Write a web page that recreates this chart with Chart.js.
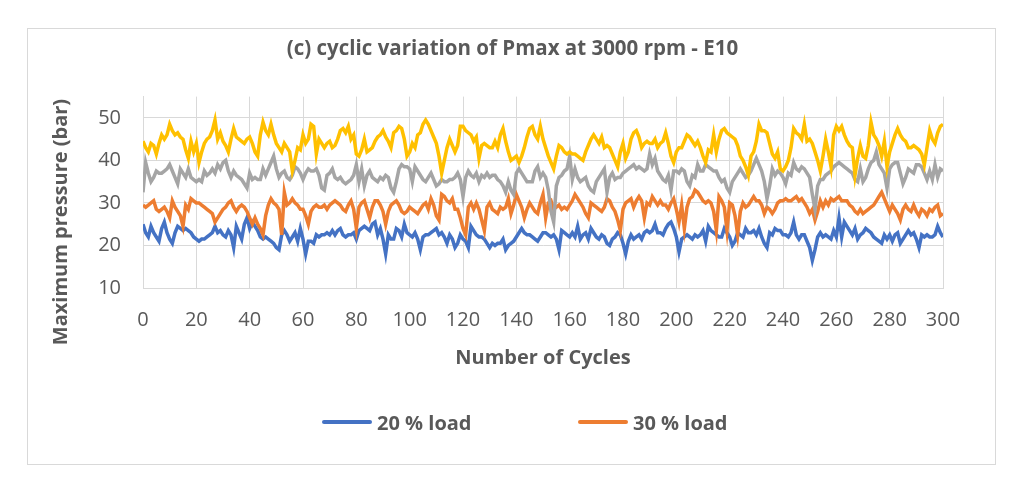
<!DOCTYPE html>
<html>
<head>
<meta charset="utf-8">
<script src="https://cdn.jsdelivr.net/npm/chart.js@4/dist/chart.umd.min.js"></script>
<style>
    body { margin: 0; background: #ffffff; }
    #wrap { position: relative; width: 1010px; height: 487px; }
    #legend { position: absolute; left: 322px; top: 408px; display: flex; font: bold 20px "Open Sans", sans-serif; color: #595959; }
    #legend .item { display: flex; align-items: center; width: 256px; height: 28px; }
    #legend .line { display: inline-block; width: 50px; height: 4px; margin-right: 5px; border-radius: 2px; }
</style>
</head>
<body>
<div id="wrap">
    <canvas id="myChart" width="1010" height="487"></canvas>
    <div id="legend"></div>
</div>
<script>
// Datos (ciclo 0 .. 300)
var seriesNames = ["20 % load", "30 % load", "40 % load", "50 % load"];
var seriesColors = ["#4472C4", "#ED7D31", "#A5A5A5", "#FFC000"];
var legendShown = ["20 % load", "30 % load"];
var xTickLabels = [0, 20, 40, 60, 80, 100, 120, 140, 160, 180, 200, 220, 240, 260, 280, 300];
var yTickLabels = [10, 20, 30, 40, 50];

var load20 = [25, 23, 22, 24.5, 23, 22, 21, 24, 25.5, 23, 21.5,
    20.5, 23, 24.5, 24, 23.5, 24, 23.5, 23, 22, 21.5,
    21, 21.5, 21.5, 22, 22.5, 23, 24.5, 23, 23.5, 22.5,
    22, 23.5, 22.5, 19.5, 24.5, 23, 21.5, 25, 26.5, 24,
    25.5, 24.5, 23.5, 22, 21.5, 22, 21.5, 21, 20.5, 19.5,
    19, 22.5, 23.5, 22.5, 21, 22, 23, 21, 24, 21.5,
    18, 21, 21, 20.5, 22.5, 22, 22.5, 22.5, 23, 22.5,
    23.5, 22.5, 23.5, 24, 22.5, 22, 22.5, 22.5, 23, 21.5,
    23.5, 24, 24.5, 24, 23.5, 25, 25.5, 22.5, 24, 21.5,
    18, 22.5, 21.5, 21.5, 24, 23.5, 22, 25, 23, 22.5,
    22, 23, 21.5, 19, 22, 22.5, 22.5, 23, 23.5, 24,
    22.5, 23, 22, 20.5, 22.5, 21.5, 19.5, 20.5, 22.5, 21.5,
    21, 19.5, 24.5, 23.5, 22.5, 22, 22, 21.5, 20.5, 19.5,
    20.5, 20, 20.5, 20.5, 21.5, 19, 20, 20.5, 21, 22,
    23, 24, 23, 22.5, 22.5, 22, 21.5, 21, 22, 23,
    23, 22.5, 22, 22.5, 21.5, 19, 23.5, 23, 22.5, 22,
    23, 22, 24.5, 21.5, 22.5, 23, 21.5, 24, 23, 22,
    21.5, 22.5, 22, 20.5, 20, 21.5, 22, 23, 22.5, 20.5,
    18, 21, 22.5, 21.5, 22, 22.5, 21.5, 23, 23.5, 23,
    23.5, 25, 23, 23, 22.5, 24, 25, 25.5, 24, 22,
    18.5, 21.5, 22, 22.5, 22, 21.5, 22.5, 22, 22.5, 23.5,
    21, 24.5, 23.5, 23, 22.5, 22, 22, 24, 23, 22,
    20, 21, 23, 22.5, 22, 24, 23, 23, 23.5, 22.5,
    24, 22, 20.5, 19.5, 23, 22.5, 24, 23.5, 23.5, 22.5,
    22.5, 22, 23, 25.5, 22.5, 21.5, 22.5, 22.5, 21, 19.5,
    16.5, 19, 22, 23, 22, 22.5, 22, 21.5, 23.5, 22,
    26.5, 22, 25.5, 24.5, 23.5, 22.5, 24, 21.5, 22.5, 23,
    24, 23.5, 23, 22, 21.5, 21, 20.5, 22.5, 21.5, 22.5,
    21, 22.5, 23, 20.5, 21.5, 22.5, 23.5, 22.5, 23, 21.5,
    19.5, 22.5, 22, 22.5, 22, 22, 22.5, 24.5, 23, 22];

var load30 = [29.5, 29, 29.5, 30, 30.5, 28.5, 28, 28.5, 29, 28, 26.5,
    30.5, 29, 28, 27, 24.5, 29.5, 28.5, 31, 30.5, 30,
    30, 29.5, 29, 28.5, 28, 27.5, 25.5, 26.5, 27.5, 28.5,
    29, 30, 30.5, 29, 28, 29, 29.5, 29, 28, 26.5,
    25, 26.5, 25, 24, 22.5, 27, 29.5, 31, 30, 29.5,
    28.5, 22.5, 32.5, 29.5, 30, 31, 30, 29.5, 28.5, 28.5,
    27, 25, 28, 29, 29.5, 29, 29, 29.5, 28.5, 29.5,
    30, 30.5, 30, 29.5, 28.5, 28, 29.5, 30.5, 28.5, 24,
    29, 30, 30.5, 28.5, 26.5, 29, 30.5, 30.5, 29.5, 28,
    25, 28, 29.5, 30, 30.5, 29.5, 28, 27.5, 28, 29,
    28.5, 28, 27.5, 28.5, 29.5, 30, 28.5, 31, 29.5, 27,
    26, 32, 31.5, 30.5, 30, 31, 28.5, 28.5, 26.5, 24,
    22.5, 29, 30, 28.5, 30, 28.5, 26, 23.5, 29, 30,
    28.5, 28, 27.5, 29, 28.5, 29, 31, 27.5, 29.5, 32,
    30.5, 29, 26.5, 28.5, 30, 29, 28, 27.5, 30, 32,
    26.5, 30, 30.5, 28.5, 29, 29.5, 28.5, 29, 28.5, 29.5,
    30.5, 32, 31, 30, 29, 27.5, 26.5, 30, 29.5, 29,
    28.5, 28, 29, 31, 30.5, 29, 28, 26, 23.5, 28.5,
    30, 30.5, 31, 29, 30.5, 31.5, 30.5, 26.5, 30, 29.5,
    31.5, 30.5, 29.5, 30.5, 29.5, 29.5, 28.5, 30, 31, 28.5,
    25.5, 29.5, 24, 29, 31, 31.5, 33, 32.5, 31.5, 30.5,
    30, 30.5, 30, 28, 23.5, 31.5, 30.5, 29, 23.5, 30,
    29.5, 27, 22.5, 28, 30, 29, 29.5, 30.5, 31.5, 30.5,
    30.5, 29.5, 27.5, 29, 28.5, 27.5, 28.5, 30, 30.5, 30.5,
    31, 30.5, 30.5, 31, 31.5, 30.5, 31, 30, 29, 27.5,
    28.5, 26, 28, 30.5, 29, 30.5, 29.5, 31, 30.5, 31,
    31.5, 30.5, 30.5, 30.5, 29.5, 29, 28, 27.5, 28.5, 27.5,
    28, 28.5, 29, 29.5, 30.5, 31.5, 32.5, 31, 29.5, 28,
    29.5, 28.5, 27.5, 26, 28.5, 29.5, 28.5, 28, 29.5, 28,
    27, 28.5, 28, 27, 28.5, 28, 29, 29.5, 27, 27.5];

var load40 = [32.5, 39.5, 37, 35, 36, 37.5, 37, 37, 37.5, 38, 39,
    37.5, 36, 34.5, 38, 37, 36, 38, 36, 35.5, 35,
    35.5, 35, 37.5, 36.5, 37, 38, 37, 39, 38, 39.5,
    40, 37.5, 36, 37.5, 36.5, 36, 35.5, 34.5, 33.5, 37,
    35.5, 36, 35.5, 35.5, 38, 36.5, 38, 39.5, 41, 38,
    36, 37, 37.5, 36, 35.5, 36.5, 38.5, 38, 37, 35.5,
    37, 38, 37.5, 37.5, 38, 36.5, 33.5, 33, 36.5, 37,
    38, 36, 35.5, 36, 35, 34.5, 35, 35.5, 36.5, 39,
    35, 38, 34, 36.5, 37.5, 36, 35.5, 35, 36, 35.5,
    36.5, 36, 33.5, 32.5, 35, 38, 39, 38.5, 38.5, 38,
    35, 38.5, 37.5, 36.5, 35.5, 35, 36, 37, 35.5, 34,
    34.5, 35.5, 35, 35, 35.5, 35.5, 36, 37, 35.5, 31.5,
    36, 37.5, 36.5, 36, 37, 35, 36.5, 36, 37, 36,
    36.5, 36.5, 35.5, 35, 34, 32.5, 35, 33, 32, 37,
    38, 37, 36, 35, 35, 35, 37.5, 38.5, 36, 37,
    36, 33, 28, 25.5, 34, 36, 36.5, 37.5, 38, 41,
    35.5, 38, 36, 35, 35.5, 36, 34, 33, 32.5, 35,
    36, 37, 38, 32.5, 36, 37, 35.5, 36, 36, 37,
    37.5, 38, 38.5, 39, 38, 38.5, 38, 37.5, 38, 41.5,
    39, 40.5, 37.5, 36.5, 35.5, 35, 36.5, 33, 37.5, 37.5,
    37, 38, 37.5, 35, 34, 36.5, 36, 39, 37.5, 37.5,
    39, 38.5, 38, 37.5, 37.5, 36, 35, 35.5, 33.5, 32.5,
    35, 36, 37, 38, 37, 36, 36.5, 37.5, 39, 40.5,
    39, 37.5, 35, 31, 34, 38, 36.5, 37.5, 37, 36,
    34.5, 37, 36.5, 39.5, 38, 37.5, 38.5, 38, 37, 36,
    32, 28.5, 34, 35.5, 35.5, 36.5, 37, 37.5, 38.5, 39,
    39.5, 39, 38.5, 38, 37.5, 37, 35.5, 35, 38, 35,
    36, 38, 39.5, 40, 42, 39, 38, 37, 33.5, 38,
    39, 39.5, 39.5, 37, 34.5, 36, 38, 37.5, 37, 39,
    39, 38.5, 37, 35.5, 37.5, 35.5, 39, 36, 38, 37.5];

var load50 = [44.5, 43, 42, 44, 43.5, 41.5, 44, 46, 45, 46, 48.5,
    47, 46, 46.5, 45.5, 45, 42.5, 40.5, 44.5, 42, 44,
    39.5, 42, 44, 45, 45.5, 47, 49.5, 45, 46.5, 44.5,
    43.5, 42, 45, 47.5, 45.5, 45, 44.5, 44, 45, 45.5,
    44, 42, 41, 46, 49, 47, 46, 48.5, 46, 44,
    43, 42, 44, 43, 42, 37.5, 40, 43, 42.5, 46,
    44, 45, 48.5, 48, 41.5, 45, 44, 43, 44, 44.5,
    43, 43.5, 45, 47, 47.5, 46.5, 48, 45, 46, 41.5,
    41, 42.5, 45, 42, 42.5, 43, 44.5, 45.5, 46, 47,
    45.5, 44.5, 43, 46.5, 47, 48, 47.5, 45, 41, 42,
    44, 43, 46, 46.5, 48.5, 49.5, 48.5, 47, 45.5, 44,
    41, 37, 40, 43, 45, 43.5, 42, 43.5, 48, 48,
    47, 46.5, 46, 44.5, 45.5, 40.5, 43.5, 44, 43.5, 43,
    43, 44.5, 43, 46, 47.5, 44.5, 42, 40, 40.5, 41,
    39.5, 41, 43, 45.5, 47.5, 48, 46, 45, 48, 45,
    43, 41, 39.5, 38, 41, 43.5, 43, 42, 41.5, 42,
    41.5, 41.5, 41, 40.5, 40, 42, 43.5, 45, 46, 45,
    44, 45.5, 43, 43.5, 43, 41.5, 40, 38.5, 42, 44,
    40.5, 42, 45, 46.5, 47, 45.5, 43, 44, 44.5, 44,
    44, 45, 43, 44, 44.5, 46.5, 44, 41, 39.5, 42,
    43, 43, 44.5, 46, 45.5, 44.5, 43.5, 44.5, 43, 41,
    39.5, 42.5, 42, 46, 42, 45, 47, 47.5, 46.5, 46,
    45.5, 45, 43.5, 41, 40, 38.5, 36.5, 41, 42, 44.5,
    48.5, 47, 47, 46.5, 44, 41.5, 40.5, 42, 38, 37.5,
    38.5, 40, 43, 47.5, 46.5, 46, 45, 48.5, 44.5, 45,
    44, 42, 40, 37.5, 41, 45, 42, 38.5, 46, 48,
    47, 48, 46, 44.5, 43.5, 43, 36.5, 40.5, 43.5, 41,
    40.5, 43.5, 49, 46, 45, 43.5, 41, 44.5, 38.5, 42,
    44, 46, 47.5, 46, 45, 44.5, 43, 43, 43.5, 43,
    42.5, 41.5, 39, 43, 47, 45, 44, 46.5, 48, 48.5];

var allSeries = [load20, load30, load40, load50];

// Convertimos cada serie en puntos {x: ciclo, y: presion}
function toPoints(serie) {
    return serie.map(function (v, i) { return { x: i, y: v }; });
}

var datasets = allSeries.map(function (serie, i) {
    return {
        label: seriesNames[i],
        data: toPoints(serie),
        borderColor: seriesColors[i],
        backgroundColor: seriesColors[i],
        borderWidth: 3.5,
        pointRadius: 0,
        tension: 0,
        // Excel dibuja la ultima serie encima
        order: allSeries.length - i
    };
});

var gris = '#595959';
var fuente = '"Open Sans", sans-serif';

// Marco gris alrededor del grafico
var marco = {
    id: 'marco',
    beforeDraw: function (chart) {
        var ctx = chart.ctx;
        ctx.save();
        ctx.fillStyle = '#ffffff';
        ctx.fillRect(0, 0, chart.width, chart.height);
        ctx.strokeStyle = '#d9d9d9';
        ctx.lineWidth = 1;
        ctx.strokeRect(27.5, 28.5, 968, 436);
        ctx.restore();
    }
};

// Titulo del eje Y (en Excel va centrado un poco mas abajo que el eje)
var tituloY = {
    id: 'tituloY',
    afterDraw: function (chart) {
        var ctx = chart.ctx;
        ctx.save();
        ctx.translate(61, 222);
        ctx.rotate(-Math.PI / 2);
        ctx.fillStyle = gris;
        ctx.font = 'bold 20px ' + fuente;
        ctx.textAlign = 'center';
        ctx.textBaseline = 'middle';
        ctx.fillText('Maximum pressure (bar)', 0, 0);
        ctx.restore();
    }
};

var ctx = document.getElementById('myChart').getContext('2d');
var myChart = new Chart(ctx, {
    type: 'line',
    data: { datasets: datasets },
    plugins: [marco, tituloY],
    options: {
        responsive: false,
        animation: false,
        layout: { padding: { left: 82, right: 67, top: 0, bottom: 107 } },
        plugins: {
            legend: { display: false },
            tooltip: { enabled: false },
            title: {
                display: true,
                text: '(c) cyclic variation of Pmax at 3000 rpm - E10',
                color: gris,
                font: { family: fuente, size: 20.5, weight: 'bold' },
                padding: { top: 37, bottom: 35 }
            }
        },
        scales: {
            x: {
                type: 'linear',
                min: 0,
                max: 300,
                afterBuildTicks: function (scale) {
                    scale.ticks = xTickLabels.map(function (v) { return { value: v }; });
                },
                afterFit: function (scale) { scale.height = 92; },
                grid: { color: '#d9d9d9', drawTicks: false },
                border: { color: '#d9d9d9' },
                ticks: {
                    color: gris,
                    padding: 20,
                    maxRotation: 0,
                    font: { family: fuente, size: 20 }
                },
                title: {
                    display: true,
                    text: 'Number of Cycles',
                    color: gris,
                    font: { family: fuente, size: 20, weight: 'bold' },
                    padding: { top: 0, bottom: 10 }
                }
            },
            y: {
                min: 10,
                max: 55,
                afterBuildTicks: function (scale) {
                    scale.ticks = yTickLabels.map(function (v) { return { value: v }; });
                },
                afterFit: function (scale) { scale.width = 61; },
                grid: { color: '#d9d9d9', drawTicks: false },
                border: { color: '#d9d9d9' },
                ticks: {
                    color: gris,
                    padding: 22,
                    font: { family: fuente, size: 20 }
                }
            }
        }
    }
});

// Leyenda en HTML: solo las dos primeras series, como en la original
var leyenda = document.getElementById('legend');
myChart.data.datasets.forEach(function (ds) {
    if (legendShown.indexOf(ds.label) < 0) return;
    var item = document.createElement('div');
    item.className = 'item';
    var linea = document.createElement('span');
    linea.className = 'line';
    linea.style.backgroundColor = ds.borderColor;
    var texto = document.createElement('span');
    texto.textContent = ds.label;
    item.appendChild(linea);
    item.appendChild(texto);
    leyenda.appendChild(item);
});
</script>
</body>
</html>
